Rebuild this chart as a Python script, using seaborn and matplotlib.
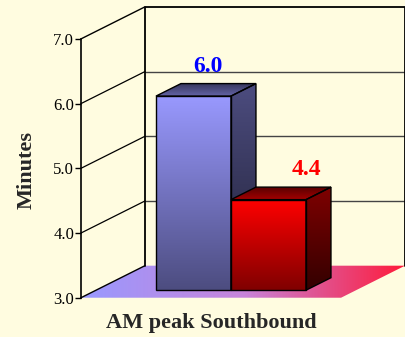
import numpy as np
import pandas as pd
import matplotlib
matplotlib.use('Agg')
import matplotlib.pyplot as plt
import seaborn as sns
from matplotlib.colors import LinearSegmentedColormap, to_rgb
from matplotlib.patches import Polygon
from matplotlib.ticker import FormatStrFormatter

# --- data ---
categories = ['AM peak Southbound']
scenarios = ['Before', 'After']
minutes = [6.0, 4.4]
bar_colors = ['#9999FF', '#FF0000']
label_colors = ['#0000FF', '#FF0000']
y_ticks = [3.0, 4.0, 5.0, 6.0, 7.0]

df = pd.DataFrame({
    'period': categories * len(scenarios),
    'scenario': scenarios,
    'minutes': minutes,
})

# --- 3D layout (data units) ---
Y_MIN, Y_MAX = 3.0, 7.0
X_FRONT_L, X_FRONT_R = -0.72, 0.667     # front edge of the floor
DEPTH_X, DEPTH_Y = 0.341, 0.495          # full depth of the box
BAR_F0, BAR_F1 = 0.234, 0.625            # depth range occupied by the bars
label_nudge = [0.01, 0.135]
BG = '#FFFCE0'


def shade(color, k):
    r, g, b = to_rgb(color)
    return (r * k, g * k, b * k)


def gradient_fill(ax, patch, colors, horizontal=False, z=2):
    """Fill a patch with a linear gradient (bottom->top or left->right)."""
    verts = patch.get_path().transformed(patch.get_patch_transform()).vertices
    x0, y0 = verts.min(axis=0)
    x1, y1 = verts.max(axis=0)
    cmap = LinearSegmentedColormap.from_list('grad', colors)
    grad = np.linspace(0, 1, 256)
    grad = grad.reshape(1, -1) if horizontal else grad.reshape(-1, 1)
    im = ax.imshow(grad, extent=[x0, x1, y0, y1], origin='lower', cmap=cmap,
                   aspect='auto', interpolation='bilinear', zorder=z)
    im.set_clip_path(patch)
    return im


sns.set_style('white')
plt.rcParams['font.family'] = ['Liberation Serif', 'DejaVu Serif']

fig = plt.figure(figsize=(4.06, 3.37), dpi=100, facecolor=BG)
ax = fig.add_axes([0, 0, 1, 1])
ax.set_facecolor(BG)

sns.barplot(data=df, x='period', y='minutes', hue='scenario', palette=bar_colors,
            saturation=1, width=0.8, errorbar=None, legend=False, ax=ax)

# --- walls and floor ---
xl, xr = X_FRONT_L, X_FRONT_R
floor = Polygon([(xl, Y_MIN), (xr, Y_MIN), (xr + DEPTH_X, Y_MIN + DEPTH_Y),
                 (xl + DEPTH_X, Y_MIN + DEPTH_Y)], closed=True,
                facecolor='none', edgecolor='none', zorder=1)
ax.add_patch(floor)
gradient_fill(ax, floor, ['#9999FF', '#C784DA', '#FF1A3A'], horizontal=True, z=0.8)

bx0, bx1 = xl + DEPTH_X, xr + DEPTH_X
# back wall horizontal gridlines + side wall diagonals
for t in y_ticks[1:-1]:
    ax.plot([bx0, bx1], [t + DEPTH_Y, t + DEPTH_Y], color='#444444', lw=1, zorder=1)
    ax.plot([xl, bx0], [t, t + DEPTH_Y], color='black', lw=0.9, zorder=1)
ax.plot([xl, bx0], [Y_MIN, Y_MIN + DEPTH_Y], color='black', lw=1, zorder=1)
ax.plot([xl, bx0], [Y_MAX, Y_MAX + DEPTH_Y], color='black', lw=1, zorder=1)
# back wall frame
ax.plot([bx0, bx0, bx1, bx1],
        [Y_MIN + DEPTH_Y, Y_MAX + DEPTH_Y, Y_MAX + DEPTH_Y, Y_MIN + DEPTH_Y],
        color='black', lw=1.3, zorder=1)

# --- 3D bars ---
sx, sy = BAR_F0 * DEPTH_X, BAR_F0 * DEPTH_Y
bdx, bdy = (BAR_F1 - BAR_F0) * DEPTH_X, (BAR_F1 - BAR_F0) * DEPTH_Y
for i, p in enumerate(ax.patches[:len(minutes)]):
    val = p.get_height()
    color = bar_colors[i]
    z = 3 + 3 * i
    p.set_x(p.get_x() + sx)
    p.set_y(Y_MIN + sy)
    p.set_height(val - Y_MIN)
    p.set_facecolor('none')
    p.set_edgecolor('black')
    p.set_linewidth(1)
    p.set_zorder(z + 1)

    x0, x1 = p.get_x(), p.get_x() + p.get_width()
    yb, yt = p.get_y(), p.get_y() + p.get_height()

    gradient_fill(ax, p, [shade(color, 0.5), color], z=z)

    side = Polygon([(x1, yb), (x1, yt), (x1 + bdx, yt + bdy), (x1 + bdx, yb + bdy)],
                   closed=True, facecolor='none', edgecolor='black', lw=1, zorder=z + 1)
    ax.add_patch(side)
    gradient_fill(ax, side, [shade(color, 0.2), shade(color, 0.5)], z=z)

    top = Polygon([(x0, yt), (x1, yt), (x1 + bdx, yt + bdy), (x0 + bdx, yt + bdy)],
                  closed=True, facecolor='none', edgecolor='black', lw=1, zorder=z + 1)
    ax.add_patch(top)
    gradient_fill(ax, top, [shade(color, 0.65), shade(color, 0.35)], z=z)

    ax.text((x0 + x1) / 2 + bdx / 2 + label_nudge[i], yt + bdy + 0.27, f'{val:.1f}',
            color=label_colors[i], fontsize=17, fontweight='bold',
            ha='center', va='center', zorder=10)

# --- axes ---
ax.set_xlim(-1.152, 1.0133)
ax.set_ylim(2.393, 7.601)

for s in ['top', 'right']:
    ax.spines[s].set_visible(False)
ax.spines['bottom'].set_position(('data', Y_MIN))
ax.spines['bottom'].set_color('none')
ax.spines['left'].set_position(('data', xl))
ax.spines['left'].set_bounds(Y_MIN, Y_MAX)
ax.spines['left'].set_color('black')
ax.spines['left'].set_linewidth(1.2)

ax.set_yticks(y_ticks)
ax.yaxis.set_major_formatter(FormatStrFormatter('%.1f'))
ax.tick_params(axis='y', direction='out', length=4, width=1, labelsize=12, pad=1,
               colors='black', left=True)
ax.set_xticks([(xl + xr) / 2])
ax.set_xticklabels(categories, fontsize=16, fontweight='bold')
ax.tick_params(axis='x', length=0, pad=11)

ax.set_xlabel('')
ax.set_ylabel('Minutes', fontsize=16, fontweight='bold')
ax.yaxis.set_label_coords(0.09, 0.4955)

fig.savefig('out.png', dpi=100, facecolor=BG)
